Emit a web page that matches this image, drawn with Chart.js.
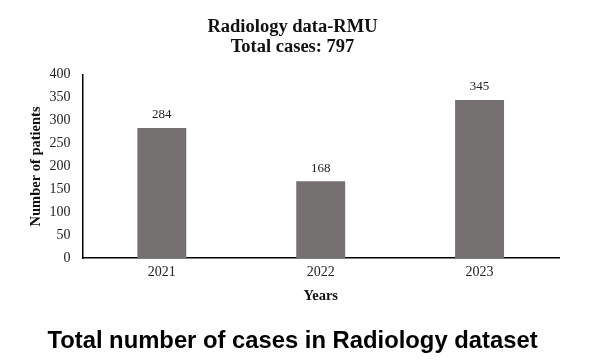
<!DOCTYPE html>
<html lang="en">
<head>
    <meta charset="UTF-8">
    <title>Radiology data-RMU</title>
    <script src="https://cdn.jsdelivr.net/npm/chart.js"></script>
    <style>
        html, body { margin: 0; padding: 0; background: #fff; }
        #wrap { width: 590px; height: 361px; }
    </style>
</head>
<body>
    <div id="wrap"><canvas id="radChart" width="590" height="361"></canvas></div>
    <script>
        // chart data
        var years = ['2021', '2022', '2023'];
        var patients = [284, 168, 345];
        var yTicks = [0, 50, 100, 150, 200, 250, 300, 350, 400];

        // draw the value above each bar
        var barLabels = {
            id: 'barLabels',
            afterDatasetsDraw: function(chart) {
                var c = chart.ctx;
                var meta = chart.getDatasetMeta(0);
                c.save();
                c.font = '13px "Liberation Serif", serif';
                c.fillStyle = '#222';
                c.textAlign = 'center';
                c.textBaseline = 'middle';
                meta.data.forEach(function(bar, i) {
                    c.fillText(patients[i], bar.x, bar.y - 13);
                });
                c.restore();
            }
        };

        var ctx = document.getElementById('radChart').getContext('2d');
        var radChart = new Chart(ctx, {
            type: 'bar',
            data: {
                labels: years,
                datasets: [{
                    data: patients,
                    backgroundColor: '#767171',
                    barPercentage: 0.616,
                    categoryPercentage: 0.5
                }]
            },
            options: {
                responsive: false,
                animation: false,
                layout: { padding: { left: 26, right: 31, top: 17, bottom: 5 } },
                plugins: {
                    legend: { display: false },
                    tooltip: { enabled: false },
                    title: {
                        display: true,
                        text: ['Radiology data-RMU', 'Total cases: 797'],
                        color: '#111',
                        font: { family: '"Liberation Serif", serif', size: 18.5, weight: 'bold', lineHeight: 1.1 },
                        padding: { top: 0, bottom: 17 }
                    },
                    subtitle: {
                        display: true,
                        position: 'bottom',
                        text: 'Total number of cases in Radiology dataset',
                        color: '#000',
                        font: { family: '"Liberation Sans", Arial, sans-serif', size: 23.8, weight: 'bold', lineHeight: 1.2 },
                        padding: { top: 22, bottom: 0 }
                    }
                },
                scales: {
                    x: {
                        grid: { display: false, drawTicks: false },
                        border: { color: '#000', width: 1.5 },
                        ticks: {
                            color: '#222',
                            padding: 6,
                            font: { family: '"Liberation Serif", serif', size: 14 }
                        },
                        title: {
                            display: true,
                            text: 'Years',
                            color: '#111',
                            font: { family: '"Liberation Serif", serif', size: 14.5, weight: 'bold', lineHeight: 1.2 },
                            padding: { top: 1, bottom: 0 }
                        }
                    },
                    y: {
                        min: 0,
                        max: 400,
                        afterBuildTicks: function(axis) {
                            axis.ticks = yTicks.map(function(v) { return { value: v }; });
                        },
                        grid: { display: false, drawTicks: false },
                        border: { color: '#000', width: 1.5 },
                        ticks: {
                            color: '#222',
                            padding: 12,
                            font: { family: '"Liberation Serif", serif', size: 14 }
                        },
                        title: {
                            display: true,
                            text: 'Number of patients',
                            color: '#111',
                            font: { family: '"Liberation Serif", serif', size: 14.5, weight: 'bold', lineHeight: 1.2 },
                            padding: { top: 2, bottom: -8 }
                        }
                    }
                }
            },
            plugins: [barLabels]
        });
    </script>
</body>
</html>
